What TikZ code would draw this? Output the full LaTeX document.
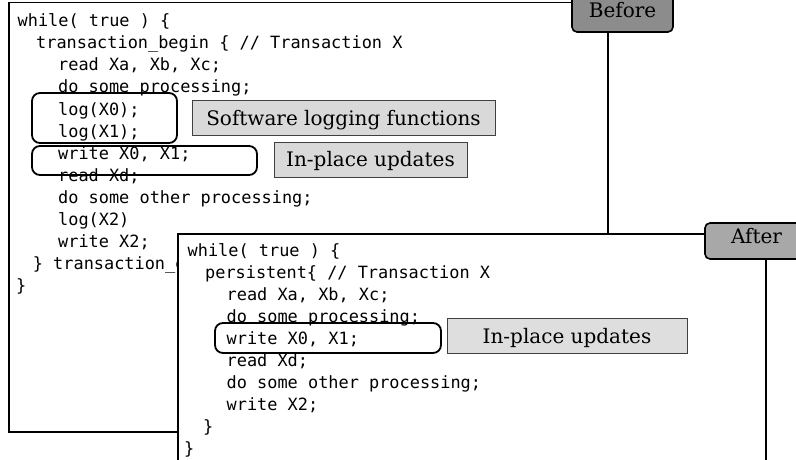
\documentclass[tikz,border=0pt]{standalone}
\usepackage{fontspec}
\setmonofont{DejaVu Sans Mono}
\newfontfamily\lblfam{DejaVu Serif}
\newcommand\lblfont{\lblfam\fontsize{20}{22}\selectfont}
\newcommand\codefont{\ttfamily\fontsize{16.9}{20}\selectfont}
\definecolor{tabbefore}{HTML}{8C8C8C}
\definecolor{tabafter}{HTML}{A8A8A8}
\definecolor{notefill}{HTML}{D9D9D9}
\definecolor{notefillb}{HTML}{DEDEDE}
\definecolor{noteedge}{HTML}{404040}

\begin{document}
\begin{tikzpicture}[x=1pt,y=-1pt,
  frame/.style={draw=black, line width=1.5pt},
  tabbox/.style={draw=black, line width=1.6pt, rounded corners=5pt},
  tabtext/.style={anchor=base, inner sep=0pt, font=\lblfont},
  code/.style={anchor=base west, inner sep=0pt, font=\codefont},
  hl/.style={draw=black, line width=1.8pt, rounded corners=8pt},
  note/.style={draw=noteedge, line width=1pt, fill=notefill, anchor=north,
    inner xsep=0pt, inner ysep=0pt, text height=24.5pt, text depth=10.5pt,
    font=\lblfont}]
\useasboundingbox (0,0) rectangle (796,460);
\clip (0,0) rectangle (796,460);

% ---------- Before: transactional code with software logging ----------
\draw[frame] (9,2.5) rectangle (608,432);
\draw[tabbox, fill=tabbefore] (572,-12) rectangle (673,32);
\node[tabtext] (tb) at (622.5,18) {Before};

\node[code] (b1)  at (17.5,27)  {while( true ) \{};
\node[code] (b2)  at (36,49)    {transaction\_begin \{ // Transaction X};
\node[code] (b3)  at (58,71)    {read Xa, Xb, Xc;};
\node[code] (b4)  at (58,93)    {do some processing;};
\node[code] (b5)  at (58,115)   {log(X0);};
\node[code] (b6)  at (58,137)   {log(X1);};
\node[code] (b7)  at (58,159)   {write X0, X1;};
\node[code] (b8)  at (58,181)   {read Xd;};
\node[code] (b9)  at (58,203)   {do some other processing;};
\node[code] (b10) at (58,225)   {log(X2)};
\node[code] (b11) at (58,247)   {write X2;};
\node[code] (b12) at (32.7,269) {\} transaction\_end};
\node[code] (b13) at (16,291)   {\}};

\draw[hl] (32,93) rectangle (177,143);
\draw[hl] (32,146) rectangle (257,175);
\node[note, minimum width=303pt] (nlog) at (343.5,100) {Software logging functions};
\node[note, minimum width=193pt] (nupd) at (370.5,141.5) {In-place updates};

% ---------- After: persistent block, no logging ----------
\draw[frame, fill=white] (178,234) rectangle (766,475);
\draw[tabbox, fill=tabafter] (705,223) rectangle (820,259);
\node[tabtext] (ta) at (756.5,243.3) {After};

\node[code] (a1)  at (187.5,256)  {while( true ) \{};
\node[code] (a2)  at (205,278.1)  {persistent\{ // Transaction X};
\node[code] (a3)  at (226.5,300.2) {read Xa, Xb, Xc;};
\node[code] (a4)  at (226.5,322.3) {do some processing;};
\node[code] (a5)  at (226.5,344.4) {write X0, X1;};
\node[code] (a6)  at (226.5,366.5) {read Xd;};
\node[code] (a7)  at (226.5,388.6) {do some other processing;};
\node[code] (a8)  at (226.5,410.7) {write X2;};
\node[code] (a9)  at (203,432.8)   {\}};
\node[code] (a10) at (184,454.9)   {\}};

\draw[hl] (215,323) rectangle (441,353);
\node[note, fill=notefillb, minimum width=240pt] (nupd2) at (567,318) {In-place updates};
\end{tikzpicture}
\end{document}
